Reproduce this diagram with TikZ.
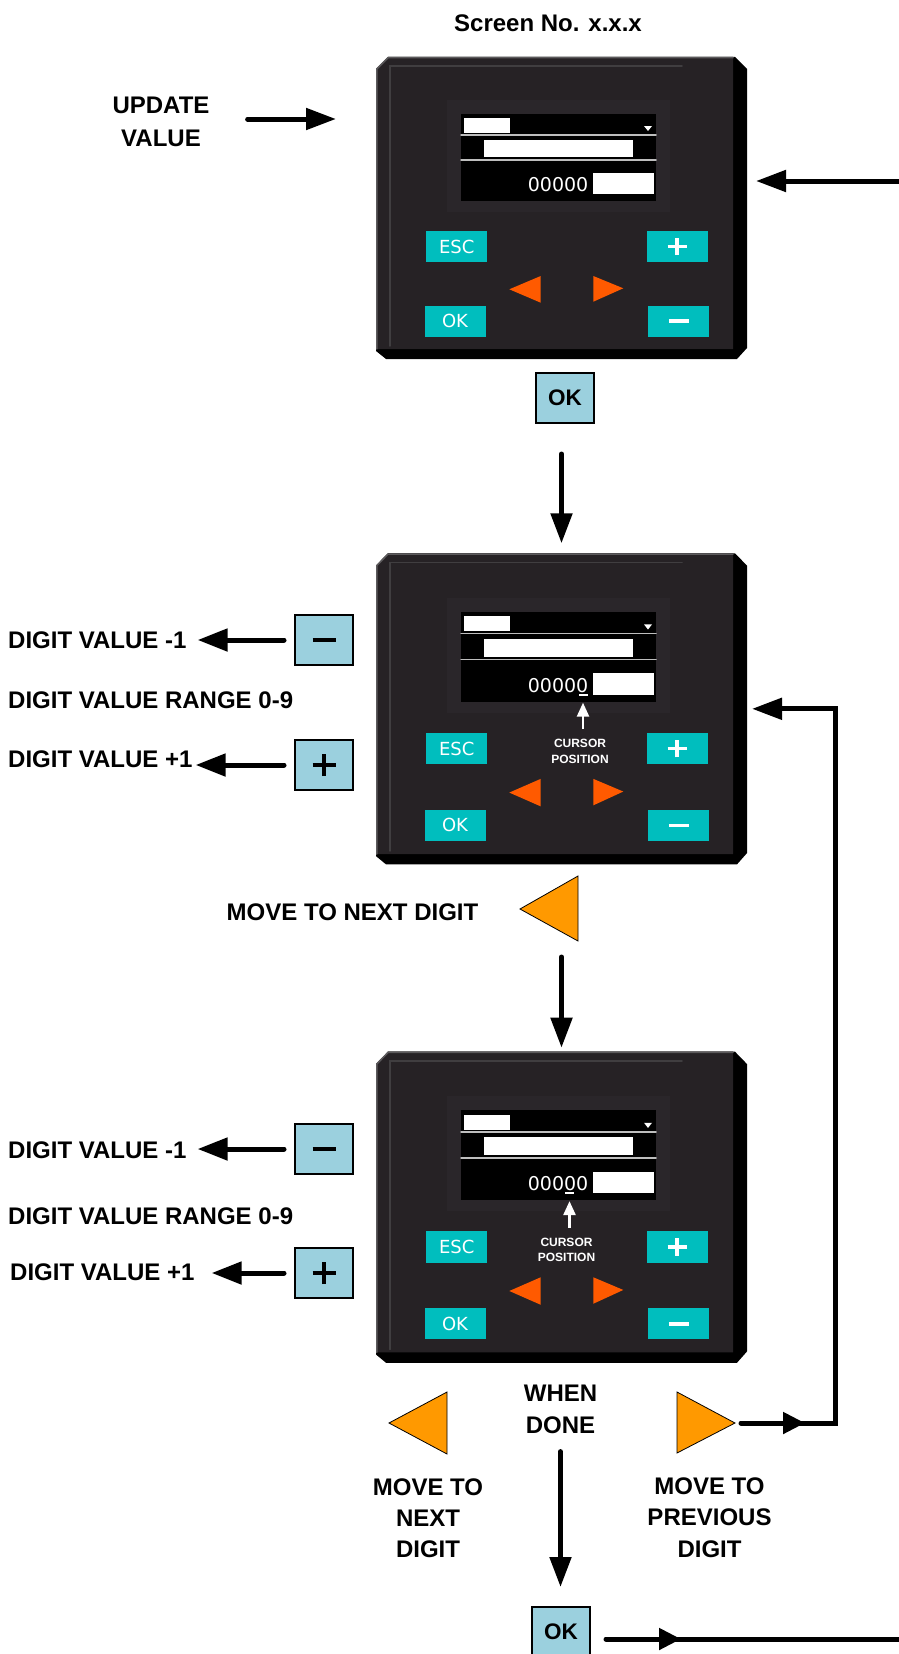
\documentclass[tikz,border=0pt]{standalone}
\usepackage{fontspec}
\setmainfont{Liberation Sans}
\newfontfamily\lcdfont{DejaVu Sans}
\usetikzlibrary{arrows.meta,decorations.markings}

\definecolor{panelbody}{HTML}{262225}
\definecolor{panelinset}{HTML}{2A262A}
\definecolor{panelrim}{HTML}{5C5A5C}
\definecolor{panelbevel}{HTML}{403E40}
\definecolor{keyteal}{HTML}{00BEBE}
\definecolor{keyorange}{HTML}{FF5A00}
\definecolor{navorange}{HTML}{FF9900}
\definecolor{keyblue}{HTML}{9BD0DE}
\definecolor{lcdrule}{HTML}{BEBEBE}

% keypad drawn in its own frame: origin at the top-left corner, 371 x 302
\newcommand\drawkeypad[1]{%
  \fill[black] (0,12) -- (12,0) -- (359,0) -- (371,12) -- (371,291) -- (361,302) -- (10,302) -- (0,294) -- cycle;
  \fill[panelbody] (0,12) -- (12,0) -- (357,0) -- (357,292) -- (0,292) -- cycle;
  \draw[panelrim, line width=1.5pt] (0.75,292) -- (0.75,12) -- (12,0.75) -- (357,0.75);
  \draw[panelbevel, line width=1.5pt] (14,289) -- (14,9) -- (306,9);
  \fill[panelinset] (71,43) rectangle (294,155);
  % display
  \fill[black] (85,57) rectangle (280,144);
  \fill[white] (88.3,61.3) rectangle (134,75.7);
  \fill[white] (268,69) -- (276,69) -- (272,74) -- cycle;
  \draw[lcdrule, line width=1.5pt] (85,78) -- (280,78);
  \fill[white] (108,83) rectangle (257.3,100.3);
  \draw[lcdrule, line width=1.5pt] (85,103) -- (280,103);
  \node[lcdnum, anchor=east] (#1-num) at (212.5,128) {00000};
  \fill[white] (217.3,116.3) rectangle (278.3,137.3);
  % keys
  \node[tealkey] (#1-esc) at (80.7,189.7) {ESC};
  \node[tealkey] (#1-plus) at (301.2,189.7) {};
  \node[tealkey] (#1-ok) at (79,264.2) {OK};
  \node[tealkey] (#1-minus) at (302.8,264.2) {};
  \draw[white, line width=3.5pt, line cap=butt] ([xshift=-9.5pt]#1-plus.center) -- ([xshift=9.5pt]#1-plus.center);
  \draw[white, line width=3.5pt, line cap=butt] ([yshift=-8.5pt]#1-plus.center) -- ([yshift=8.5pt]#1-plus.center);
  \draw[white, line width=3.5pt, line cap=butt] ([xshift=-10pt]#1-minus.center) -- ([xshift=10pt]#1-minus.center);
  \fill[keyorange] (133.3,232.3) -- (164.7,219) -- (164.7,245.7) -- cycle;
  \fill[keyorange] (217.3,219) -- (247.3,231.3) -- (217.3,244.7) -- cycle;
}

% cursor mark under one digit, with its label
\newcommand\drawcursor[2]{%
  \fill[white] (#2-4.5,136.6) rectangle (#2+4.5,138.4);
  \coordinate (#1-mark) at (#2,145);
  \node[curlbl] (#1-cur) at (#2-3,192.3) {CURSOR\\POSITION};
  \draw[white, line width=2.5pt, line cap=butt, shorten <=10pt, -{Triangle[length=14pt,width=12pt]}]
    (#1-cur.north -| #1-mark) -- (#1-mark);
}

\begin{document}
\begin{tikzpicture}[x=1pt, y=-1pt, line cap=round,
  lbl/.style={font=\bfseries\fontsize{24}{32}\selectfont, inner sep=0pt, align=center},
  curlbl/.style={font=\bfseries\fontsize{12}{15.5}\selectfont, text=white, inner sep=0pt, align=center},
  lcdnum/.style={font=\lcdfont\fontsize{19}{19}\selectfont, text=white, inner sep=0pt},
  tealkey/.style={rectangle, fill=keyteal, minimum width=61pt, minimum height=31.3pt, inner sep=0pt,
    text=white, font=\lcdfont\fontsize{18}{18}\selectfont},
  bluekey/.style={rectangle, draw=black, line width=2pt, fill=keyblue, minimum width=58pt,
    minimum height=50pt, inner sep=0pt, font=\bfseries\fontsize{22.5}{22.5}\selectfont},
  panelbox/.style={rectangle, minimum width=371pt, inner sep=0pt, outer sep=0pt},
  navtri/.style={fill=navorange, draw=black, line width=0.8pt, line join=miter},
  flow/.style={line width=5pt, -{Triangle[length=30pt,width=21pt]}},
  flowL/.style={line width=5pt, -{Triangle[length=30pt,width=22pt]}},
  midarr/.style={postaction={decorate, decoration={markings,
    mark=at position #1 with {\arrow{Triangle[length=22pt,width=21pt]}}}}}]

\useasboundingbox (0,0) rectangle (899,1654);
\clip (0,0) rectangle (899,1654);
\fill[white] (0,0) rectangle (899,1654);

% keypads
\begin{scope}[shift={(376,57)}]
  \drawkeypad{k1}
\end{scope}
\begin{scope}[shift={(376,553.3)}, yscale=1.03]
  \drawkeypad{k2}
  \drawcursor{k2}{207}
\end{scope}
\begin{scope}[shift={(376,1051.7)}, yscale=1.03]
  \drawkeypad{k3}
  \drawcursor{k3}{193.5}
\end{scope}

\node[panelbox, minimum height=302pt] (p1) at (561.5,208) {};
\node[panelbox, minimum height=311pt] (p2) at (561.5,708.8) {};
\node[panelbox, minimum height=311pt] (p3) at (561.5,1207.2) {};

% labels
\node[lbl] (title) at (548,23) {Screen No. x.x.x};
\node[lbl, font=\bfseries\fontsize{24}{33}\selectfont] (upd) at (161,121.5) {UPDATE\\VALUE};

\node[bluekey] (ok1) at (565,398) {OK};

\node[lbl, anchor=west] (dvm2) at (8,640) {DIGIT VALUE -1};
\node[lbl, anchor=west] (range2) at (8,700) {DIGIT VALUE RANGE 0-9};
\node[lbl, anchor=west] (dvp2) at (8,759) {DIGIT VALUE +1};
\node[bluekey] (minus2) at (324,640) {};
\node[bluekey] (plus2) at (324,765) {};

\node[lbl] (mn2) at (352.5,912) {MOVE TO NEXT DIGIT};
\draw[navtri] (520,909) -- (578,876) -- (578,941) -- cycle;
\coordinate (tri2-s) at (561.5,941);

\node[lbl, anchor=west] (dvm3) at (8,1150) {DIGIT VALUE -1};
\node[lbl, anchor=west] (range3) at (8,1216) {DIGIT VALUE RANGE 0-9};
\node[lbl, anchor=west] (dvp3) at (10,1272) {DIGIT VALUE +1};
\node[bluekey] (minus3) at (324,1149) {};
\node[bluekey] (plus3) at (324,1273) {};

\node[lbl] (wd) at (560.5,1409) {WHEN\\DONE};
\draw[navtri] (389,1423) -- (447,1392) -- (447,1454) -- cycle;
\node[lbl, font=\bfseries\fontsize{24}{31}\selectfont] (mn3) at (428,1518) {MOVE TO\\NEXT\\DIGIT};
\draw[navtri] (677,1392) -- (735,1423) -- (677,1453) -- cycle;
\coordinate (tri3r-tip) at (735,1423);
\node[lbl, font=\bfseries\fontsize{24}{31.5}\selectfont] (mp3) at (709.5,1517.5) {MOVE TO\\PREVIOUS\\DIGIT};

\node[bluekey] (ok3) at (561,1632) {OK};

% symbols on the blue keys
\foreach \k in {minus2,plus2,minus3,plus3}
  \draw[line width=4pt, line cap=butt] ([xshift=-11.5pt]\k.center) -- ([xshift=11.5pt]\k.center);
\foreach \k in {plus2,plus3}
  \draw[line width=4pt, line cap=butt] ([yshift=-11pt]\k.center) -- ([yshift=11pt]\k.center);

% connectors
\draw[flow, shorten <=38pt, shorten >=40pt] ([yshift=2.5pt]upd.east) -- ([yshift=2.5pt]upd.east -| p1.west);
\draw[flow, shorten <=30pt, shorten >=10pt] (ok1.south -| p2.north) -- (p2.north);

\draw[flowL, shorten <=10pt, shorten >=11pt] (minus2.west) -- (minus2.west -| dvm2.east);
\draw[flowL, shorten <=10pt, shorten >=3pt] (plus2.west) -- (plus2.west -| dvp2.east);
\draw[flowL, shorten <=10pt, shorten >=11pt] (minus3.west) -- (minus3.west -| dvm3.east);
\draw[flowL, shorten <=10pt, shorten >=17pt] (plus3.west) -- (plus3.west -| dvp3.east);

\draw[flow, shorten <=16pt, shorten >=4pt] (tri2-s) -- (p3.north);
\draw[flow, shorten <=18pt, shorten >=19pt] (wd.south) -- (wd.south |- ok3.north);

\draw[flow, midarr=64pt] ([xshift=6pt]tri3r-tip) -- (835,1423) |- ([xshift=5pt]p2.east);
\draw[flow, midarr=75pt] ([xshift=15pt,yshift=-7pt]ok3.east) -- ++(340,0) |- ([xshift=9pt]p1.east |- 0,181);
\end{tikzpicture}
\end{document}
